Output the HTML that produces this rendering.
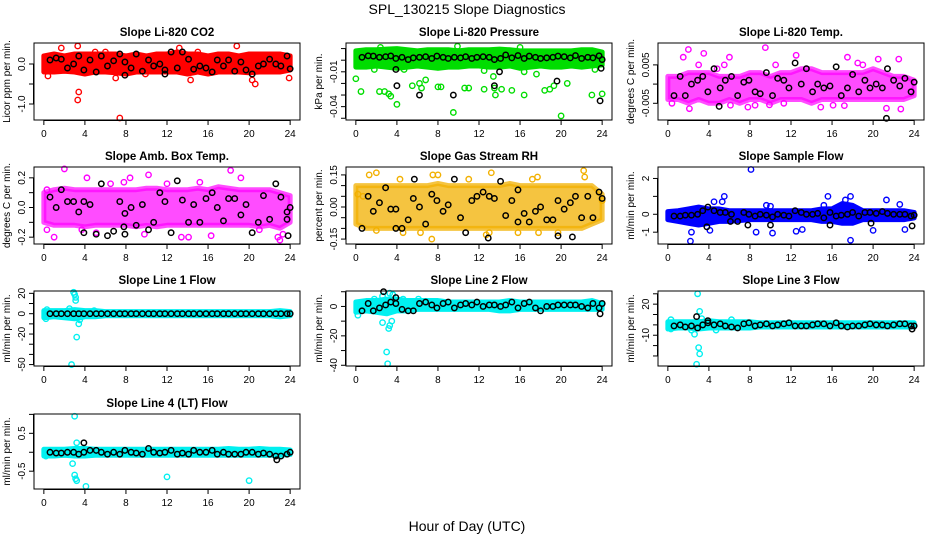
<!DOCTYPE html>
<html><head><meta charset="utf-8"><style>
html,body{margin:0;padding:0;background:#fff;}
svg{display:block;font-family:"Liberation Sans",Arial,sans-serif;}
</style></head><body>
<svg id="chart" width="936" height="540" viewBox="0 0 936 540" xmlns="http://www.w3.org/2000/svg">
<text x="467" y="14" font-size="14" text-anchor="middle">SPL_130215  Slope Diagnostics</text>
<text x="467" y="531" font-size="14" text-anchor="middle">Hour of Day (UTC)</text>
</svg>
<script>
const hours=[0,1,2,3,4,5,6,7,8,9,10,11,12,13,14,15,16,17,18,19,20,21,22,23,24];
const xTicks=[0,4,8,12,16,20,24];
const blackX=[0.6,1.2,1.7,2.3,2.9,3.4,3.9,4.5,5.1,5.6,6.2,6.8,7.4,7.9,8.5,9.0,9.6,10.2,10.7,11.3,11.8,12.4,13.0,13.5,14.1,14.6,15.2,15.8,16.4,16.9,17.5,18.0,18.6,19.2,19.7,20.3,20.9,21.4,22.0,22.6,23.1,23.7,24.0];

const p1Lo=[-0.2,-0.2,-0.18,-0.2,-0.25,-0.2,-0.2,-0.22,-0.25,-0.2,-0.2,-0.2,-0.2,-0.2,-0.25,-0.2,-0.25,-0.2,-0.2,-0.2,-0.22,-0.2,-0.2,-0.2,-0.15];
const p1Hi=[0.2,0.25,0.2,0.25,0.25,0.25,0.25,0.25,0.2,0.25,0.2,0.25,0.25,0.3,0.25,0.25,0.2,0.25,0.25,0.2,0.25,0.25,0.25,0.25,0.2];
const p1ColX=[0.4,3.3,3.4,7.4,7.0,14.3,20.3,20.6,23.9,3.3,1.7,18.8,13.2,15.0,6.0,9.9,5.0];
const p1ColY=[-0.3,-0.9,-0.7,-1.35,-0.35,-0.4,-0.4,-0.5,-0.35,0.45,0.4,0.45,0.4,0.3,0.3,-0.25,0.3];
const p1Blk=[0.1,0.15,0.12,-0.1,0,0.2,-0.15,0.1,-0.2,0.2,-0.05,0.08,0.25,0.05,-0.1,0.25,-0.18,0.1,-0.05,0,-0.15,0.3,-0.1,0.3,0.12,-0.13,-0.05,-0.1,-0.2,0.1,-0.05,0.1,-0.18,0.05,-0.15,-0.25,-0.05,0,0.12,0,-0.05,0.2,-0.12];
const p1ExX=[7.9,11.8];const p1ExY=[-0.28,-0.25];

const p2Lo=[-0.006,-0.006,-0.005,-0.006,-0.007,-0.006,-0.005,-0.006,-0.007,-0.006,-0.006,-0.005,-0.005,-0.006,-0.006,-0.005,-0.007,-0.006,-0.005,-0.006,-0.006,-0.005,-0.006,-0.005,-0.004];
const p2Hi=[0.008,0.009,0.009,0.0095,0.01,0.009,0.008,0.009,0.009,0.009,0.008,0.009,0.009,0.009,0.0095,0.009,0.008,0.008,0.008,0.008,0.008,0.008,0.009,0.009,0.007];
const p2ColX=[0.0,0.5,2.3,2.8,4.0,3.2,3.4,5.5,6.4,6.2,6.8,8.0,8.3,9.5,10.6,11.0,12.5,13.5,13.6,14.2,15.2,16.4,18.4,18.9,20.0,19.3,20.6,23.0,24.0,13.4,17.6,16.4,1.8,3.9,23.3,12.5,4.7,2.4,9.9,16.0];
const p2ColY=[-0.016,-0.027,-0.027,-0.027,-0.038,-0.029,-0.031,-0.022,-0.024,-0.02,-0.017,-0.023,-0.023,-0.045,-0.024,-0.024,-0.025,-0.024,-0.03,-0.025,-0.026,-0.03,-0.026,-0.025,-0.048,-0.022,-0.02,-0.03,-0.029,-0.014,-0.012,-0.01,-0.008,-0.006,-0.008,-0.009,-0.008,0.011,0.012,0.011];
const p2Blk=[0.0025,0.0038,0.0035,0.0025,0.003,0.0037,0.0015,0.0025,0.0005,0.002,0.0025,0.003,0.0015,0.0035,0.0025,0.0015,0.0025,0.002,0.003,0.0015,0.0025,0.003,0.0025,0.0005,0.0015,0.0045,0.002,0.004,0.0015,0.0035,0.0025,0.0015,0.002,0.0025,0.0035,0.003,0.002,0.004,0.0015,0.0025,0.002,0.0038,0.0005];
const p2ExX=[3.9,4.0,6.2,9.5,13.5,14.0,19.6,23.8,23.9];const p2ExY=[-0.008,-0.022,-0.03,-0.03,-0.022,-0.01,-0.018,-0.035,-0.007];

const p3Lo=[-0.004,-0.004,-0.005,-0.004,-0.005,-0.005,-0.004,-0.005,-0.004,-0.004,-0.005,-0.004,-0.004,-0.004,-0.005,-0.004,-0.004,-0.004,-0.004,-0.004,-0.004,-0.004,-0.004,-0.004,-0.003];
const p3Hi=[0.002,0.002,0.003,0.003,0.003,0.002,0.002,0.002,0.003,0.003,0.002,0.003,0.003,0.004,0.004,0.003,0.003,0.003,0.003,0.003,0.004,0.003,0.002,0.002,0.001];
const p3ColX=[0.4,1.5,2.0,3.5,4.8,5.5,6.0,9.5,12.5,13.5,17.5,18.5,20.5,22.5,2.1,6.1,9.9,11.3,14.9,17.2,21.3,22.7,7.8,8.5,16.1,3.0,10.5,19.0];
const p3ColY=[-0.005,0.007,0.009,0.008,0.004,0.005,0.007,0.0095,0.0075,0.004,0.007,0.0055,0.0065,0.0065,-0.0064,-0.0055,-0.0054,-0.005,-0.006,-0.0056,-0.0063,-0.0065,-0.006,-0.0055,-0.0055,0.005,0.005,0.005];
const p3Blk=[-0.003,0.002,-0.003,0,0.001,0.002,-0.002,0.004,-0.001,0.001,0.002,-0.003,0.0005,0.001,-0.002,-0.0025,0.003,-0.003,0.0015,0.001,-0.001,0.0055,0,0.004,-0.002,0,-0.001,-0.0005,0.0045,-0.003,-0.001,0.0025,-0.002,0.001,-0.001,0,-0.001,0.004,0.001,-0.0005,0.0015,-0.002,0.0005];
const p3ExX=[21.3,5.0];const p3ExY=[-0.0089,-0.0058];

const p4Lo=[-0.1,-0.12,-0.12,-0.12,-0.13,-0.12,-0.12,-0.12,-0.12,-0.13,-0.12,-0.13,-0.12,-0.12,-0.12,-0.12,-0.12,-0.12,-0.12,-0.12,-0.12,-0.13,-0.12,-0.14,-0.1];
const p4Hi=[0.1,0.12,0.13,0.12,0.12,0.12,0.12,0.12,0.12,0.12,0.13,0.13,0.12,0.12,0.12,0.13,0.12,0.14,0.13,0.12,0.12,0.12,0.12,0.1,0.08];
const p4ColX=[2.0,4.2,7.8,8.4,10.2,18.2,19.2,0.3,1.0,13.4,14.1,16.3,22.8,23.0,23.3,5.1,9.8,0.3,3.7,12.0,15.2,21.0,6.5];
const p4ColY=[0.26,0.2,0.17,0.2,0.22,0.25,0.2,-0.15,-0.2,-0.2,-0.2,-0.19,-0.2,-0.22,-0.18,-0.17,-0.18,0.12,-0.15,0.16,0.17,-0.15,0.16];
const p4Blk=[0.07,0,0.12,0.04,0.04,-0.03,0.04,0.02,-0.18,0.16,-0.19,-0.16,0.04,-0.04,0,-0.12,0.02,-0.15,-0.1,0.1,0.04,-0.17,0.18,0.05,-0.1,0.02,-0.1,0.06,0.1,0,-0.09,0.06,0.06,-0.05,0.02,-0.17,-0.1,0.08,-0.08,0.16,0.07,-0.03,0];
const p4ExX=[3.9,7.9,7.8,23.8,23.7];const p4ExY=[-0.17,-0.18,-0.13,-0.19,-0.08];

const p5Lo=[-0.08,-0.1,-0.1,-0.1,-0.1,-0.1,-0.1,-0.1,-0.1,-0.1,-0.1,-0.1,-0.1,-0.1,-0.1,-0.1,-0.1,-0.1,-0.1,-0.1,-0.1,-0.1,-0.1,-0.08,-0.06];
const p5Hi=[0.1,0.1,0.1,0.1,0.1,0.1,0.1,0.1,0.11,0.1,0.1,0.1,0.1,0.1,0.1,0.11,0.1,0.1,0.1,0.1,0.1,0.1,0.1,0.1,0.06];
const p5ColX=[0.7,1.3,2.0,4.3,7.5,8.0,11.0,13.2,17.2,17.7,22.2,22.3,7.4,13.0,12.7,15.8,17.8,19.7,4.6,6.3,2.0,0.2,24.0];
const p5ColY=[0.05,0.15,0.16,0.13,0.15,0.15,0.13,0.16,0.13,0.14,0.17,0.14,-0.15,-0.12,-0.13,-0.12,-0.12,-0.12,-0.12,-0.12,-0.11,0.06,0.03];
const p5Blk=[-0.1,0.05,-0.02,0.02,0.09,-0.01,-0.01,-0.1,-0.06,0.04,0,-0.08,0.06,0.03,-0.02,0.01,0.13,-0.05,-0.12,0.03,0.05,0.07,0.05,0.04,0.12,-0.04,0.03,0.08,-0.03,-0.07,-0.02,0,-0.06,-0.06,0.03,-0.01,0.02,0.05,-0.05,0.05,-0.05,0.07,0.04];
const p5ExX=[12.9,19.7,21.1,3.9,5.7,15.8];const p5ExY=[-0.145,-0.135,-0.14,-0.1,0.13,-0.07];

const p6Lo=[-0.3,-0.4,-0.5,-0.6,-0.5,-0.4,-0.4,-0.35,-0.3,-0.3,-0.3,-0.3,-0.3,-0.3,-0.3,-0.4,-0.4,-0.5,-0.5,-0.3,-0.3,-0.3,-0.3,-0.3,-0.2];
const p6Hi=[0.15,0.2,0.3,0.4,0.3,0.3,0.2,0.2,0.2,0.2,0.2,0.2,0.2,0.2,0.2,0.3,0.3,0.6,0.5,0.2,0.2,0.2,0.2,0.2,0.1];
const p6ColX=[8.1,5.5,4.5,5.3,2.2,2.3,4.1,8.6,10.2,12.5,13.1,15.2,15.6,17.3,17.8,17.8,20.0,21.3,22.6,23.1,9.6,10.0];
const p6ColY=[2.5,1.0,0.7,0.7,-1.5,-1.0,-0.9,-1.0,-1.05,-0.95,-0.85,0.5,1.0,0.8,1.0,-1.45,-0.9,0.8,0.55,-0.85,0.5,0.45];
const p6Blk=[-0.1,-0.1,-0.05,-0.05,0,0.2,0.4,0.2,0.1,0.1,0,-0.4,0.1,0,-0.1,0,-0.05,-0.15,0,-0.05,-0.1,0.2,0.1,0,0,0.05,-0.2,0.1,-0.1,-0.05,0,0.1,-0.1,0.1,0.1,0.05,0.15,0.05,0,0,0,-0.1,-0.05];
const p6ExX=[3.8,7.8,10.0,15.8,19.8,23.8,6.1];const p6ExY=[-0.7,-0.6,-0.6,-0.6,-0.5,-0.65,-0.4];

const p7Lo=[-4,-3,-4,-5,-3,-3,-2,-2,-2,-2,-2,-2,-2,-2,-2,-2,-2,-2,-2,-2,-2,-2,-2,-3,-2];
const p7Hi=[3,3,3,4,3,3,2,2,2,2,2,2,2,2,2,2,2,2,2,2,2,2,2,3,2];
const p7ColX=[2.9,3.0,3.1,3.1,3.2,3.4,2.7,2.5,0.2,0.3,3.5,4.9];
const p7ColY=[21,19,16,13,-23,-10,-50,5,-5,4,-6,3];
const p7Blk=[0,0,0,0,0,0,0,0,0,0,0,0,0,0,0,0,0,0,0,0,0,0,0,0,0,0,0,0,0,0,0,0,0,0,0,0,0,0,0,0,0,0,0];
const p7ExX=[];const p7ExY=[];

const p8Lo=[-4,-3,-4,-5,-3,-3,-2,-2,-2,-2,-2,-2,-2,-2,-3,-3,-2,-2,-2,-2,-2,-2,-2,-2,-2];
const p8Hi=[3,4,4,5,5,4,4,4,4,3,3,3,3,3,3,4,3,3,3,3,3,3,3,4,2];
const p8ColX=[2.6,2.6,3.0,3.1,3.2,3.3,3.5,3.3,3.6,0.2,1.8,4.6,6.1];
const p8ColY=[-11,7,-31,-39,-15,-13,-10,9,8,-6,5,5,5];
const p8Blk=[-3,2,-3,-1,1,3,2,-2,-3,-3,2,3,1,-1,2,3,-1,1,2,1,3,0,1,1,0,1,3,-1,2,3,-1,-3,0,0,1,1,1,1,0,-1,2,-1,2];
const p8ExX=[2.7,3.9,23.8];const p8ExY=[10,6,-5];

const p9Lo=[-4,-3,-3,-4,-3,-3,-3,-3,-3,-2,-2,-2,-2,-2,-2,-2,-2,-2,-2,-2,-2,-2,-2,-2,-2];
const p9Hi=[3,3,3,3,4,3,3,3,3,2,2,2,2,2,2,2,2,2,2,2,2,2,2,2,2];
const p9ColX=[2.9,3.1,3.3,3.0,3.1,2.8,2.6,2.3,0.3,0.3,4.7,6.2];
const p9ColY=[30,13,6,-22,-28,-38,-9,-5,5,-4,-5,5];
const p9Blk=[-1,0,-2,-1,-3,0,2,0,1,-1,-2,-3,1,2,-1,0,1,-1,0,1,2,-1,-1,-1,0,1,1,-1,2,-1,-2,-1,-1,0,1,0,0,-1,0,1,1,-1,-1];
const p9ExX=[2.8,3.9,23.8];const p9ExY=[8,4,-4];

const p10Lo=[-0.1,-0.1,-0.08,-0.1,-0.1,-0.08,-0.08,-0.08,-0.08,-0.08,-0.08,-0.08,-0.08,-0.08,-0.08,-0.08,-0.08,-0.08,-0.08,-0.08,-0.08,-0.08,-0.08,-0.08,-0.06];
const p10Hi=[0.08,0.08,0.08,0.1,0.1,0.08,0.08,0.08,0.08,0.08,0.08,0.08,0.08,0.08,0.08,0.08,0.08,0.08,0.1,0.08,0.08,0.1,0.08,0.08,0.06];
const p10ColX=[3.0,3.2,2.8,3.0,3.1,3.2,4.1,12.0,20.0,0.2];
const p10ColY=[0.95,0.25,-0.3,-0.6,-0.7,-0.75,-0.9,-0.65,-0.75,-0.1];
const p10Blk=[0,-0.02,-0.02,0,0,-0.05,0,0.05,0.05,0,-0.05,0,-0.05,0.05,0,-0.02,-0.05,0.1,0,-0.02,0,0.05,-0.05,-0.02,-0.05,0.05,0,0,0.05,-0.05,0,-0.05,-0.05,-0.05,0,0,-0.05,-0.02,-0.05,-0.1,-0.1,-0.05,0];
const p10ExX=[3.9,22.7];const p10ExY=[0.25,-0.2];

const panelTitles=["Slope Li-820 CO2","Slope Li-820 Pressure","Slope Li-820 Temp.","Slope Amb. Box Temp.","Slope Gas Stream RH","Slope Sample Flow","Slope Line 1 Flow","Slope Line 2 Flow","Slope Line 3 Flow","Slope Line 4 (LT) Flow"];
const yTitles=["Licor ppm per min.","kPa per min.","degrees C per min.","degrees C per min.","percent per min.","ml/min per min.","ml/min per min.","ml/min per min.","ml/min per min.","ml/min per min."];
const yTickVals=[[0,-0.5,-1],[0.01,0,-0.01,-0.02,-0.03,-0.04,-0.05],[0.005,0,-0.005],[0.2,0.1,0,-0.1,-0.2],[0.15,0.1,0.05,0,-0.05,-0.1,-0.15],[2,1,0,-1],[20,10,0,-10,-20,-30,-40,-50],[10,0,-10,-20,-30,-40],[30,20,10,0,-10,-20,-30,-40],[1,0.5,0,-0.5]];
const yTickLabels=[["0.0","","-1.0"],["","","-0.01","","","-0.04",""],["0.005","","-0.005"],["0.2","","0.0","","-0.2"],["0.15","","","0.00","","","-0.15"],["2","","0","-1"],["20","","0","","-20","","","-50"],["","0","","-20","","-40"],["","20","","","-10","","","-40"],["","0.5","","-0.5"]];
const yDomains=[[0.525,-1.4],[0.0148,-0.0515],[0.0107,-0.00935],[0.273,-0.246],[0.187,-0.173],[2.64,-1.66],[22.3,-51.4],[10.5,-40.5],[32.7,-39.7],[1.01,-0.97]];

const series=[
 [p1Lo,p1Hi,p1ColX,p1ColY,p1Blk,p1ExX,p1ExY],[p2Lo,p2Hi,p2ColX,p2ColY,p2Blk,p2ExX,p2ExY],
 [p3Lo,p3Hi,p3ColX,p3ColY,p3Blk,p3ExX,p3ExY],[p4Lo,p4Hi,p4ColX,p4ColY,p4Blk,p4ExX,p4ExY],
 [p5Lo,p5Hi,p5ColX,p5ColY,p5Blk,p5ExX,p5ExY],[p6Lo,p6Hi,p6ColX,p6ColY,p6Blk,p6ExX,p6ExY],
 [p7Lo,p7Hi,p7ColX,p7ColY,p7Blk,p7ExX,p7ExY],[p8Lo,p8Hi,p8ColX,p8ColY,p8Blk,p8ExX,p8ExY],
 [p9Lo,p9Hi,p9ColX,p9ColY,p9Blk,p9ExX,p9ExY],[p10Lo,p10Hi,p10ColX,p10ColY,p10Blk,p10ExX,p10ExY]];
const colors=["#ff0000","#00dd00","#ff00ff","#ff00ff","#f2b000","#0000ff","#00f0f0","#00f0f0","#00f0f0","#00f0f0"];
const bandOpacity=[1,1,0.7,0.7,0.75,1,1,1,1,1];

const NS="http://www.w3.org/2000/svg";
const svg=document.getElementById('chart');
const rowTops=[43,167,291,414], rowBots=[120,244,366,489];
function mk(tag,attrs,parent){const e=document.createElementNS(NS,tag);for(const k in attrs)e.setAttribute(k,attrs[k]);parent.appendChild(e);return e;}

series.forEach((s,i)=>{
  const col=i%3,row=Math.floor(i/3);
  const L=34+312*col,R=300+312*col,T=rowTops[row],B=rowBots[row];
  const xs=h=>L+(h+0.96)/25.92*(R-L);
  const [top,bot]=yDomains[i];
  const ys=v=>T+(top-v)/(top-bot)*(B-T);
  const g=mk('g',{},svg);
  
  
  const t=mk('text',{x:(L+R)/2,y:T-7,'font-size':11.5,'font-weight':'bold','text-anchor':'middle'},g);
  t.textContent=panelTitles[i];
  
  
  const yt=mk('text',{x:0,y:0,'font-size':10,'text-anchor':'middle',transform:`translate(${L-24},${(T+B)/2}) rotate(-90)`},g);
  yt.textContent=yTitles[i];
  
  
  const [lo,hi,cx,cy,blk,ex,ey]=s;
  let pts=hours.map((h,k)=>xs(h)+','+ys(hi[k]));
  pts=pts.concat(hours.slice().reverse().map((h,k)=>xs(h)+','+ys(lo[hours.length-1-k])));
  const band=mk('polygon',{points:pts.join(' '),fill:colors[i],stroke:colors[i],'stroke-width':5,'stroke-linejoin':'round','fill-opacity':bandOpacity[i],'stroke-opacity':bandOpacity[i]},g);
  
  
  cx.forEach((x,k)=>{
    const c=mk('circle',{cx:xs(x),cy:ys(cy[k]),r:2.7,fill:'none',stroke:colors[i],'stroke-width':1.4},g);
    
    
  });
  blackX.forEach((x,k)=>{
    const c=mk('circle',{cx:xs(x),cy:ys(blk[k]),r:2.7,fill:'none',stroke:'#000','stroke-width':1.5},g);
    
    
  });
  ex.forEach((x,k)=>{
    const c=mk('circle',{cx:xs(x),cy:ys(ey[k]),r:2.7,fill:'none',stroke:'#000','stroke-width':1.5},g);
    
    
  });
  const box=mk('rect',{x:L,y:T,width:R-L,height:B-T,fill:'none',stroke:'#000','stroke-width':1},g);
  
  
  mk('line',{x1:xs(0),x2:xs(24),y1:B+0.5,y2:B+0.5,stroke:'#000'},g);
  xTicks.forEach(h=>{
    mk('line',{x1:xs(h),x2:xs(h),y1:B,y2:B+5,stroke:'#000'},g);
    const tl=mk('text',{x:xs(h),y:B+17,'font-size':10,'text-anchor':'middle'},g);
    tl.textContent=h;
    
    
  });
  const tv=yTickVals[i].filter(v=>v<=top&&v>=bot);
  const tlab=yTickLabels[i].filter((l,k)=>yTickVals[i][k]<=top&&yTickVals[i][k]>=bot);
  mk('line',{x1:L-0.5,x2:L-0.5,y1:ys(tv[0]),y2:ys(tv[tv.length-1]),stroke:'#000'},g);
  tv.forEach((v,k)=>{
    mk('line',{x1:L-5,x2:L,y1:ys(v),y2:ys(v),stroke:'#000'},g);
    if(tlab[k]){
      const tl=mk('text',{x:0,y:0,'font-size':10,'text-anchor':'middle',transform:`translate(${L-9},${ys(v)}) rotate(-90)`},g);
      tl.textContent=tlab[k];
      
      
    }
  });
});
</script>
</body></html>
